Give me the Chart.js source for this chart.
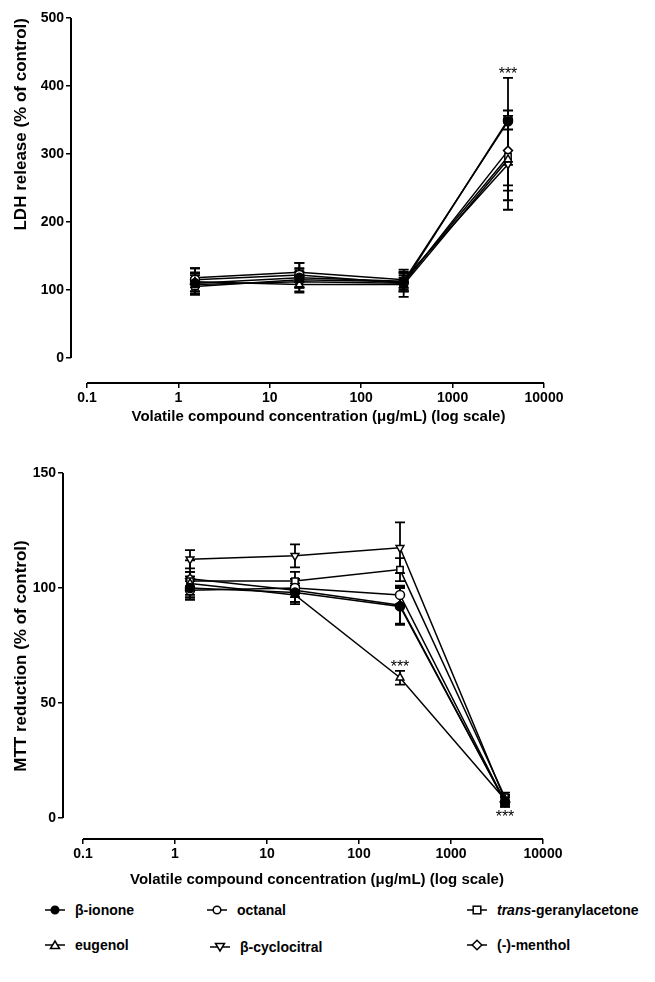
<!DOCTYPE html>
<html>
<head>
<meta charset="utf-8">
<script src="https://cdn.jsdelivr.net/npm/chart.js@4.4.0/dist/chart.umd.min.js"></script>
<style>
  body { margin: 0; background: #fff; }
  #wrap { position: relative; width: 655px; height: 982px; font-family: "Liberation Sans", Arial, sans-serif; }
  #ldh { position: absolute; left: 0; top: 0; }
  #mtt { position: absolute; left: 0; top: 440px; }
  .leg { position: absolute; display: flex; align-items: center; font-size: 14px; font-weight: bold; color: #000; white-space: nowrap; }
  .leg svg { margin-right: 10px; }
</style>
</head>
<body>
<div id="wrap">
  <canvas id="ldh" width="655" height="440"></canvas>
  <canvas id="mtt" width="655" height="460"></canvas>
  <div id="legend"></div>
</div>
<script>
// doses tested (µg/mL)
const doses = [1, 10, 100, 1000];
const compounds = ['β-ionone', 'eugenol', 'octanal', 'β-cyclocitral', 'trans-geranylacetone', '(-)-menthol'];
const xTicks = [0.1, 1, 10, 100, 1000, 10000];
const ldhTicks = [0, 100, 200, 300, 400, 500];
const mttTicks = [0, 50, 100, 150];

// LDH release (% of control), mean and SEM per compound
const ldhIonone = [110, 118, 113, 348];
const ldhEugenol = [112, 108, 108, 292];
const ldhOctanal = [115, 122, 110, 350];
const ldhCyclocitral = [118, 126, 115, 285];
const ldhGeranyl = [105, 115, 112, 296];
const ldhMenthol = [108, 112, 110, 305];
const ldhIononeErr = [15, 14, 12, 64];
const ldhEugenolErr = [14, 12, 10, 60];
const ldhOctanalErr = [17, 18, 20, 14];
const ldhCyclocitralErr = [14, 14, 12, 67];
const ldhGeranylErr = [12, 12, 14, 50];
const ldhMentholErr = [14, 14, 12, 51];

// MTT reduction (% of control)
const mttIonone = [100, 98, 92, 7];
const mttEugenol = [102, 97, 61, 8];
const mttOctanal = [99, 100, 97, 7];
const mttCyclocitral = [112.5, 114, 117.5, 8];
const mttGeranyl = [103, 103, 108, 9];
const mttMenthol = [104, 99, 92.5, 7];
const mttIononeErr = [5, 4, 8, 2];
const mttEugenolErr = [5, 4, 3, 2];
const mttOctanalErr = [4, 4, 4, 2];
const mttCyclocitralErr = [4, 5, 11, 2];
const mttGeranylErr = [4, 4, 5, 2];
const mttMentholErr = [8, 5, 8, 2];

const styles = [
  { pointStyle: 'circle', fill: '#000', rot: 0 },
  { pointStyle: 'triangle', fill: '#fff', rot: 0 },
  { pointStyle: 'circle', fill: '#fff', rot: 0 },
  { pointStyle: 'triangle', fill: '#fff', rot: 180 },
  { pointStyle: 'rect', fill: '#fff', rot: 0 },
  { pointStyle: 'rectRot', fill: '#fff', rot: 0 }
];

const FONT = '"Liberation Sans", Arial';

function makeSets(vals, errs) {
  return compounds.map((name, i) => ({
    label: name,
    data: doses.map((d, j) => ({ x: d, y: vals[i][j] })),
    err: errs[i],
    xAxisID: 'xd',
    borderColor: '#000',
    borderWidth: 1.5,
    pointStyle: styles[i].pointStyle,
    rotation: styles[i].rot,
    pointRadius: 4.5,
    pointBorderWidth: 1.5,
    pointBackgroundColor: styles[i].fill,
    pointBorderColor: '#000',
    tension: 0
  }));
}

// log range so that value v1 sits at pixel p1 and v2 at p2, for a chart area [left, right]
function logRange(v1, p1, v2, p2, left, right) {
  const d = (p2 - p1) / (Math.log10(v2) - Math.log10(v1));
  return {
    min: Math.pow(10, Math.log10(v1) - (p1 - left) / d),
    max: Math.pow(10, Math.log10(v2) + (right - p2) / d)
  };
}

const errorBars = {
  id: 'errorBars',
  beforeDatasetsDraw(chart) {
    const ctx = chart.ctx, y = chart.scales.y;
    ctx.save();
    ctx.strokeStyle = '#000';
    ctx.lineWidth = 1.8;
    chart.data.datasets.forEach((ds, i) => {
      chart.getDatasetMeta(i).data.forEach((pt, j) => {
        const v = ds.data[j].y, e = ds.err[j];
        const t = y.getPixelForValue(v + e), b = y.getPixelForValue(v - e);
        ctx.beginPath();
        ctx.moveTo(pt.x, t); ctx.lineTo(pt.x, b);
        ctx.moveTo(pt.x - 5, t); ctx.lineTo(pt.x + 5, t);
        ctx.moveTo(pt.x - 5, b); ctx.lineTo(pt.x + 5, b);
        ctx.stroke();
      });
    });
    ctx.restore();
  },
  afterDraw(chart, args, opts) {
    const ctx = chart.ctx, x = chart.scales.x, y = chart.scales.y;
    ctx.save();
    ctx.strokeStyle = '#000';
    ctx.lineWidth = 2;
    ctx.beginPath();
    // axis lines, offset like the original
    ctx.moveTo(chart.chartArea.left, y.getPixelForValue(opts.yTicks[0]));
    ctx.lineTo(chart.chartArea.left, y.getPixelForValue(opts.yTicks[opts.yTicks.length - 1]));
    ctx.moveTo(x.getPixelForValue(xTicks[0]), chart.chartArea.bottom);
    ctx.lineTo(x.getPixelForValue(xTicks[xTicks.length - 1]), chart.chartArea.bottom);
    ctx.stroke();
    // significance stars
    ctx.fillStyle = '#000';
    ctx.font = '16px ' + FONT;
    ctx.textAlign = 'center';
    (opts.stars || []).forEach(s => {
      const ds = chart.data.datasets[s.set];
      const pt = chart.getDatasetMeta(s.set).data[s.idx];
      const v = ds.data[s.idx].y, e = ds.err[s.idx];
      if (s.above) {
        ctx.textBaseline = 'bottom';
        ctx.fillText('***', pt.x, y.getPixelForValue(v + e) + 5);
      } else {
        ctx.textBaseline = 'top';
        ctx.fillText('***', pt.x, y.getPixelForValue(v - e) + 3);
      }
    });
    ctx.restore();
  }
};

function makeChart(id, sets, cfg) {
  const vis = logRange(0.1, cfg.tick01, 10000, cfg.tick1e4, cfg.left, cfg.right);
  const dat = logRange(1, cfg.pt1, 1000, cfg.pt1000, cfg.left, cfg.right);
  const yMax = cfg.yTicks[cfg.yTicks.length - 1];
  const yMin = -(cfg.bottom - cfg.y0) * yMax / (cfg.y0 - cfg.top);
  return new Chart(document.getElementById(id), {
    type: 'line',
    data: { datasets: sets },
    plugins: [errorBars],
    options: {
      responsive: false,
      animation: false,
      layout: { padding: { top: cfg.top, right: 655 - cfg.right, bottom: cfg.padBottom, left: 0 } },
      plugins: {
        legend: { display: false },
        tooltip: { enabled: false },
        errorBars: { yTicks: cfg.yTicks, stars: cfg.stars }
      },
      scales: {
        xd: { type: 'logarithmic', display: false, min: dat.min, max: dat.max },
        x: {
          type: 'logarithmic',
          position: 'bottom',
          min: vis.min, max: vis.max,
          afterBuildTicks: s => { s.ticks = xTicks.map(v => ({ value: v })); },
          afterFit: s => { s.height = cfg.xHeight; },
          border: { display: false },
          grid: { drawOnChartArea: false, drawTicks: true, tickLength: 5, color: '#000', lineWidth: 1.5 },
          ticks: {
            color: '#000', padding: 2, maxRotation: 0, autoSkip: false,
            font: { family: FONT, size: 14, weight: 'bold' },
            callback: v => String(v)
          },
          title: {
            display: true, text: 'Volatile compound concentration (μg/mL) (log scale)',
            color: '#000', padding: { top: 0, bottom: cfg.titlePad },
            font: { family: FONT, size: 15, weight: 'bold' }
          }
        },
        y: {
          type: 'linear',
          min: yMin, max: yMax,
          afterBuildTicks: s => { s.ticks = cfg.yTicks.map(v => ({ value: v })); },
          afterFit: s => { s.width = cfg.left; },
          border: { display: false },
          grid: { drawOnChartArea: false, drawTicks: true, tickLength: 5, color: '#000', lineWidth: 1.5 },
          ticks: {
            color: '#000', padding: 2,
            font: { family: FONT, size: 14, weight: 'bold' }
          },
          title: {
            display: true, text: cfg.yTitle, align: cfg.yAlign,
            color: '#000', padding: { top: 11, bottom: 0 },
            font: { family: FONT, size: 17, weight: 'bold' }
          }
        }
      }
    }
  });
}

makeChart('ldh',
  makeSets([ldhIonone, ldhEugenol, ldhOctanal, ldhCyclocitral, ldhGeranyl, ldhMenthol],
           [ldhIononeErr, ldhEugenolErr, ldhOctanalErr, ldhCyclocitralErr, ldhGeranylErr, ldhMentholErr]),
  { left: 71, right: 566, top: 18, y0: 358, bottom: 383, padBottom: 7, xHeight: 50, titlePad: 7,
    tick01: 87, tick1e4: 544, pt1: 195, pt1000: 508, yTicks: ldhTicks,
    yTitle: 'LDH release (% of control)', yAlign: 'end',
    stars: [{ set: 0, idx: 3, above: true }] });

makeChart('mtt',
  makeSets([mttIonone, mttEugenol, mttOctanal, mttCyclocitral, mttGeranyl, mttMenthol],
           [mttIononeErr, mttEugenolErr, mttOctanalErr, mttCyclocitralErr, mttGeranylErr, mttMentholErr]),
  { left: 63, right: 571, top: 33, y0: 378, bottom: 399, padBottom: 1, xHeight: 60, titlePad: 10,
    tick01: 83, tick1e4: 543, pt1: 190, pt1000: 505, yTicks: mttTicks,
    yTitle: 'MTT reduction (% of control)', yAlign: 'center',
    stars: [{ set: 1, idx: 2, above: true }, { set: 0, idx: 3, above: false }] });

// legend, laid out in three columns like the figure
const legendPos = [
  { x: 45, y: 902 }, { x: 45, y: 937 },
  { x: 207, y: 902 }, { x: 210, y: 939 },
  { x: 467, y: 902 }, { x: 467, y: 937 }
];
const legendOrder = [0, 1, 2, 3, 4, 5];
function iconSvg(k) {
  const st = styles[k];
  let m = '';
  if (st.pointStyle === 'circle') m = `<circle cx="10" cy="6" r="3.8" fill="${st.fill}" stroke="#000" stroke-width="1.5"/>`;
  else if (st.pointStyle === 'rect') m = `<rect x="6.2" y="2.2" width="7.6" height="7.6" fill="#fff" stroke="#000" stroke-width="1.5"/>`;
  else if (st.pointStyle === 'rectRot') m = `<polygon points="10,1.2 14.8,6 10,10.8 5.2,6" fill="#fff" stroke="#000" stroke-width="1.5"/>`;
  else if (st.rot === 180) m = `<polygon points="5.5,2.5 14.5,2.5 10,10" fill="#fff" stroke="#000" stroke-width="1.5"/>`;
  else m = `<polygon points="10,2 14.5,9.5 5.5,9.5" fill="#fff" stroke="#000" stroke-width="1.5"/>`;
  return `<svg width="20" height="12"><line x1="0" y1="6" x2="20" y2="6" stroke="#000" stroke-width="1.5"/>${m}</svg>`;
}
const legend = document.getElementById('legend');
legendOrder.forEach((k, n) => {
  const div = document.createElement('div');
  div.className = 'leg';
  div.style.left = legendPos[n].x + 'px';
  div.style.top = legendPos[n].y + 'px';
  let name = compounds[k];
  if (name.startsWith('trans-')) name = '<i>trans</i>-' + name.slice(6);
  div.innerHTML = iconSvg(k) + '<span>' + name + '</span>';
  legend.appendChild(div);
});
</script>
</body>
</html>
